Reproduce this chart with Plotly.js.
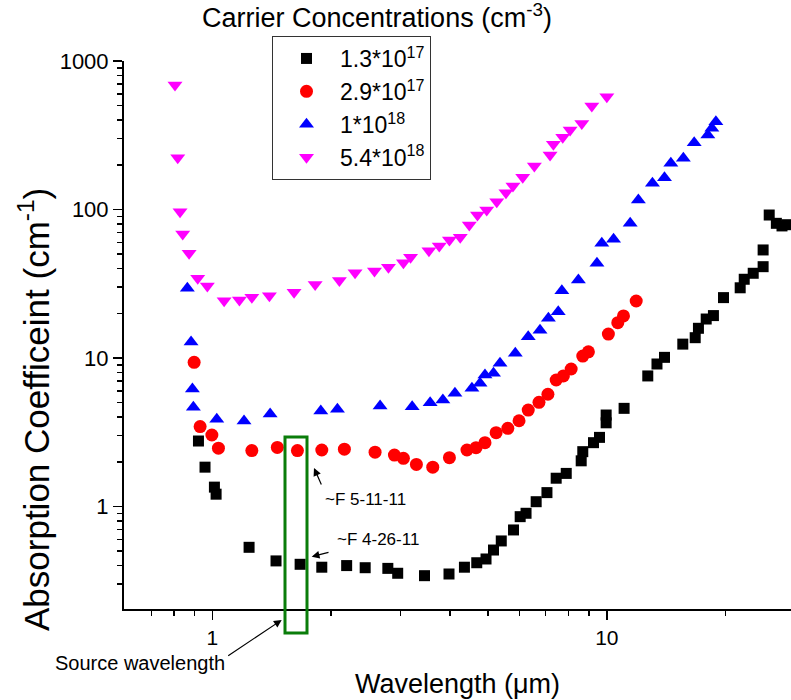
<!DOCTYPE html>
<html>
<head>
<meta charset="utf-8">
<script src="https://cdn.plot.ly/plotly-3.0.1.min.js"></script>
<style>html,body{margin:0;padding:0;background:#fff;}#chart{width:791px;height:700px;}</style>
</head>
<body>
<div id="chart"></div>
<script>
// Series names
const seriesNames = ['1.3*10<sup>17</sup>', '2.9*10<sup>17</sup>', '1*10<sup>18</sup>', '5.4*10<sup>18</sup>'];

// 1.3e17 (black squares)
const blackX = [0.922,0.958,1.012,1.022,1.239,1.45,1.669,1.894,2.19,2.44,2.785,2.95,3.45,3.98,4.355,4.68,4.94,5.16,5.40,5.80,6.03,6.24,6.62,7.05,7.44,7.89,8.61,8.69,9.25,9.58,9.96,9.96,11.06,12.7,13.4,14.0,15.58,16.75,17.07,17.86,18.63,19.76,21.78,22.3,23.5,24.9,24.9,25.8,26.9,27.8,28.6];
const blackY = [2.76,1.84,1.35,1.21,0.531,0.43,0.408,0.39,0.40,0.387,0.383,0.355,0.342,0.351,0.39,0.418,0.443,0.509,0.586,0.695,0.854,0.90,1.077,1.24,1.55,1.67,2.03,2.34,2.69,2.92,3.66,4.13,4.58,7.57,9.11,10.1,12.4,13.7,15.85,18.3,19.3,25.5,29.7,33.9,37.2,41.2,53.4,91.8,80.7,77.5,79];

// 2.9e17 (red circles)
const redX = [0.899,0.931,0.997,1.036,1.259,1.461,1.643,1.894,2.161,2.585,2.894,3.05,3.29,3.62,3.99,4.42,4.66,4.91,5.24,5.61,5.99,6.32,6.73,7.09,7.44,7.76,8.12,8.69,8.98,10.09,10.66,11.02,11.87];
const redY = [9.35,3.45,3.03,2.47,2.38,2.50,2.38,2.40,2.43,2.32,2.22,2.11,1.92,1.84,2.13,2.40,2.49,2.69,3.14,3.36,3.78,4.46,5.03,5.70,7.11,7.57,8.43,10.3,11.0,14.5,17.3,19.2,24.2];

// 1e18 (blue up-triangles)
const blueX = [0.864,0.883,0.890,0.895,1.026,1.203,1.401,1.883,2.075,2.662,3.21,3.565,3.84,4.12,4.55,4.77,4.91,5.16,5.36,5.86,6.32,6.77,7.11,7.53,7.69,8.47,9.44,9.71,10.4,11.46,12.02,13.05,14.0,14.53,15.63,16.65,18.03,18.46,18.9];
const blueY = [29.5,12.8,6.19,4.66,3.87,3.76,4.20,4.40,4.51,4.75,4.70,5.0,5.21,5.78,6.25,6.76,7.68,7.89,9.21,10.75,13.9,15.4,18.5,20.5,28.4,33.5,43.4,59.2,63.0,80.7,115.9,150,163.6,204.6,221,281.7,317,352,390];

// 5.4e18 (magenta down-triangles)
const magentaX = [0.804,0.817,0.828,0.841,0.873,0.918,0.971,1.071,1.171,1.259,1.395,1.611,1.822,2.099,2.30,2.576,2.795,3.05,3.18,3.54,3.76,3.99,4.25,4.48,4.70,4.96,5.26,5.55,5.78,6.12,6.55,7.18,7.32,7.73,8.07,8.64,9.16,10.0];
const magentaY = [689,223,96.7,68.4,50.7,34.4,30.5,24.3,24.6,25.6,26.2,27.7,31.3,33.2,37.5,38.5,40.8,43.8,47.6,52.8,56.8,62.3,65.0,78.6,91.8,99.2,112.8,129.7,143.9,164.7,196.3,232.9,275,306,343,380,498,575];

// Tick values / labels
const xTickVals = [1, 10];
const xTickText = ['1', '10'];
const xMinorVals = [0.7,0.8,0.9,2,3,4,5,6,7,8,9,20];
const yTickVals = [1, 10, 100, 1000];
const yTickText = ['1', '10', '100', '1000'];
const yMinorVals = [0.3,0.4,0.5,0.6,0.7,0.8,0.9,2,3,4,5,6,7,8,9,20,30,40,50,60,70,80,90,200,300,400,500,600,700,800,900];

const FONT = '"Liberation Sans", Arial, sans-serif';

const traces = [
  {x: blackX, y: blackY, name: seriesNames[0], mode: 'markers', type: 'scatter',
   marker: {symbol: 'square', size: 11, color: '#000000'}},
  {x: redX, y: redY, name: seriesNames[1], mode: 'markers', type: 'scatter',
   marker: {symbol: 'circle', size: 13, color: '#ff0000'}},
  {x: blueX, y: blueY, name: seriesNames[2], mode: 'markers', type: 'scatter',
   marker: {symbol: 'triangle-up', size: 13, color: '#0000ff'}},
  {x: magentaX, y: magentaY, name: seriesNames[3], mode: 'markers', type: 'scatter',
   marker: {symbol: 'triangle-down', size: 13, color: '#ff00ff'}}
];

const L = 124, R = 791, T = 61, B = 609;
const px = v => (v - L) / (R - L);
const py = v => (B - v) / (B - T);

const layout = {
  width: 791, height: 700,
  margin: {l: 124, r: 0, t: 61, b: 91, autoexpand: false},
  paper_bgcolor: '#ffffff', plot_bgcolor: '#ffffff',
  font: {family: FONT, color: '#000000'},
  showlegend: true,
  title: {text: 'Carrier Concentrations (cm<sup>-3</sup>)', font: {family: FONT, size: 27, color: '#000'},
          x: 377/791, xref: 'container', xanchor: 'center', y: 1 - 18/700, yref: 'container', yanchor: 'middle'},
  xaxis: {
    type: 'log', range: [Math.log10(0.597), Math.log10(29.3)],
    showline: true, linecolor: '#000', linewidth: 2, mirror: false,
    showgrid: false, zeroline: false,
    tickmode: 'array', tickvals: xTickVals, ticktext: xTickText,
    ticks: 'outside', ticklen: 9, tickwidth: 1.5, tickcolor: '#000',
    tickfont: {family: FONT, size: 21, color: '#000'},
    minor: {tickmode: 'array', tickvals: xMinorVals, ticks: 'outside', ticklen: 5, tickwidth: 1.5, tickcolor: '#000', showgrid: false},
    title: {text: 'Wavelength (μm)', font: {family: FONT, size: 27, color: '#000'}, standoff: 26}
  },
  yaxis: {
    type: 'log', range: [Math.log10(0.204), 3],
    showline: true, linecolor: '#000', linewidth: 2, mirror: false,
    showgrid: false, zeroline: false,
    tickmode: 'array', tickvals: yTickVals, ticktext: yTickText,
    ticks: 'outside', ticklen: 9, tickwidth: 1.5, tickcolor: '#000',
    tickfont: {family: FONT, size: 22, color: '#000'},
    minor: {tickmode: 'array', tickvals: yMinorVals, ticks: 'outside', ticklen: 5, tickwidth: 1.5, tickcolor: '#000', showgrid: false}
  },
  legend: {
    x: px(272), y: py(36), xanchor: 'left', yanchor: 'top',
    bordercolor: '#333', borderwidth: 1, bgcolor: '#ffffff',
    font: {family: FONT, size: 23, color: '#000'},
    itemwidth: 57, tracegroupgap: 0
  },
  shapes: [
    {type: 'rect', xref: 'paper', yref: 'paper', x0: px(285), x1: px(307), y0: py(633), y1: py(437),
     line: {color: '#0a7d0a', width: 3}, fillcolor: 'rgba(0,0,0,0)'}
  ],
  annotations: [
    {xref: 'paper', yref: 'paper', x: px(34), y: py(410), text: 'Absorption Coefficeint (cm<sup>-1</sup>)',
     textangle: -90, showarrow: false, font: {family: FONT, size: 35, color: '#000'}, xanchor: 'center', yanchor: 'middle'},
    {xref: 'paper', yref: 'paper', x: px(365), y: py(499), text: '~F 5-11-11', showarrow: false,
     font: {family: FONT, size: 17, color: '#000'}, xanchor: 'center', yanchor: 'middle'},
    {xref: 'paper', yref: 'paper', x: px(377.5), y: py(539), text: '~F 4-26-11', showarrow: false,
     font: {family: FONT, size: 17, color: '#000'}, xanchor: 'center', yanchor: 'middle'},
    {xref: 'paper', yref: 'paper', x: px(140), y: py(663), text: 'Source wavelength', showarrow: false,
     font: {family: FONT, size: 20, color: '#000'}, xanchor: 'center', yanchor: 'middle'},
    {xref: 'paper', yref: 'paper', x: px(314), y: py(468), text: '', showarrow: true, ax: 8, ay: 18,
     arrowhead: 2, arrowsize: 1.3, arrowwidth: 1.2, arrowcolor: '#000', standoff: 0, startstandoff: 0},
    {xref: 'paper', yref: 'paper', x: px(311.7), y: py(556.7), text: '', showarrow: true, ax: 18.3, ay: -4.7,
     arrowhead: 2, arrowsize: 1.3, arrowwidth: 1.2, arrowcolor: '#000', standoff: 0, startstandoff: 0},
    {xref: 'paper', yref: 'paper', x: px(281.7), y: py(620), text: '', showarrow: true, ax: -55, ay: 36.7,
     arrowhead: 2, arrowsize: 1.3, arrowwidth: 1.2, arrowcolor: '#000', standoff: 0, startstandoff: 0}
  ]
};

Plotly.newPlot('chart', traces, layout, {displayModeBar: false, staticPlot: true});
</script>
</body>
</html>
